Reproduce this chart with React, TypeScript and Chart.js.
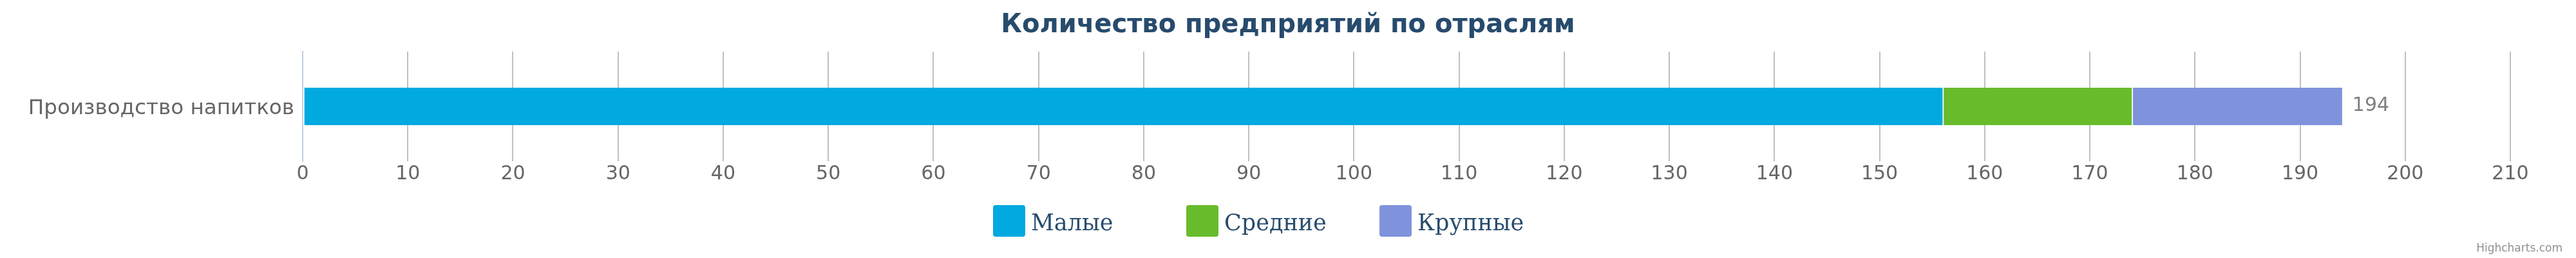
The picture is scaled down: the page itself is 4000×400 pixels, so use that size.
import React, { useEffect, useRef } from 'react';
import { Chart, registerables } from 'chart.js';

Chart.register(...registerables);

// ---- data ----
const titleText = 'Количество предприятий по отраслям';
const categories = ['Производство напитков'];
const seriesNames = ['Малые', 'Средние', 'Крупные'];
const smallValues = [156];
const mediumValues = [18];
const largeValues = [20];
const seriesColors = ['#00a9e0', '#68bc2c', '#7f93dc'];
const axisMin = 0;
const axisMax = 210;
const axisStep = 10;
const creditsText = 'Highcharts.com';

const seriesValues = [smallValues, mediumValues, largeValues];

const SANS = 'DejaVu Sans';

const totalsPlugin = {
  id: 'stackTotals',
  afterDatasetsDraw(chart: any) {
    const ctx = chart.ctx;
    const xs = chart.scales.x;
    const ys = chart.scales.y;
    ctx.save();
    ctx.font = `30px "${SANS}"`;
    ctx.fillStyle = '#808080';
    ctx.textAlign = 'left';
    ctx.textBaseline = 'middle';
    categories.forEach((_c, i) => {
      const total = seriesValues.reduce((s, arr) => s + arr[i], 0);
      const x = xs.getPixelForValue(total) + 16;
      const y = ys.getPixelForValue(i) - 1;
      ctx.fillText(String(total), x, y);
    });
    ctx.restore();
  },
};

const legendPlugin = {
  id: 'hcLegend',
  afterDraw(chart: any) {
    const ctx = chart.ctx;
    const itemWidth = 300;
    const startX = chart.width / 2 - 458;
    const boxTop = 318;
    ctx.save();
    seriesNames.forEach((name, i) => {
      const x = startX + i * itemWidth;
      ctx.fillStyle = seriesColors[i];
      ctx.beginPath();
      (ctx as any).roundRect(x, boxTop, 50, 49, 4);
      ctx.fill();
      ctx.fillStyle = '#274b6d';
      ctx.font = '35px "DejaVu Serif"';
      ctx.textAlign = 'left';
      ctx.textBaseline = 'alphabetic';
      ctx.fillText(name, x + 59, 357);
    });
    ctx.font = `17px "${SANS}"`;
    ctx.fillStyle = '#909090';
    ctx.textAlign = 'right';
    ctx.fillText(creditsText, chart.width - 21, 390);
    ctx.restore();
  },
};

export default function App() {
  const canvasRef = useRef<HTMLCanvasElement | null>(null);

  useEffect(() => {
    if (!canvasRef.current) return;
    const chart = new Chart(canvasRef.current, {
      type: 'bar',
      data: {
        labels: categories,
        datasets: seriesNames.map((name, i) => ({
          label: name,
          data: seriesValues[i],
          backgroundColor: seriesColors[i],
          borderColor: '#ffffff',
          borderWidth: { left: 2, right: 0, top: 0, bottom: 0 },
          borderSkipped: false,
          barThickness: 58,
          yAxisID: 'y',
        })),
      },
      options: {
        indexAxis: 'y',
        responsive: false,
        animation: false,
        layout: { padding: { top: 0, right: 0, bottom: 110, left: 0 } },
        plugins: {
          legend: { display: false },
          tooltip: { enabled: false },
          title: {
            display: true,
            text: titleText,
            color: '#274b6d',
            font: { family: SANS, size: 40, weight: 'bold' },
            padding: { top: 16, bottom: 16 },
          },
        },
        scales: {
          x: {
            type: 'linear',
            position: 'bottom',
            stacked: true,
            min: axisMin,
            max: axisMax,
            grid: {
              color: (c: any) => (c.tick && c.tick.value === 0 ? '#c0d0e0' : '#c0c0c0'),
              lineWidth: 2,
              drawTicks: false,
            },
            border: { display: false },
            ticks: {
              stepSize: axisStep,
              maxTicksLimit: 100,
              autoSkip: false,
              maxRotation: 0,
              padding: 2,
              color: '#666666',
              font: { family: SANS, size: 30 },
            },
            afterFit: (s: any) => {
              s.height = 40;
            },
          },
          y: {
            type: 'category',
            position: 'left',
            stacked: true,
            z: 1,
            grid: { display: false, drawTicks: false },
            border: { display: true, color: '#c0d0e0', width: 2 },
            ticks: {
              padding: 13,
              labelOffset: 4,
              color: '#666666',
              font: { family: SANS, size: 32.6 },
            },
            afterFit: (s: any) => {
              s.width = 470;
            },
          },
          yRight: {
            type: 'category',
            position: 'right',
            display: true,
            grid: { display: false, drawTicks: false },
            border: { display: false },
            ticks: { display: false },
            afterFit: (s: any) => {
              s.width = 102;
            },
          },
        },
      } as any,
      plugins: [totalsPlugin, legendPlugin],
    });
    return () => chart.destroy();
  }, []);

  return (
    <div style={{ position: 'fixed', left: 0, top: 0, width: 4000, height: 400, background: '#ffffff' }}>
      <canvas ref={canvasRef} width={4000} height={400} style={{ display: 'block' }} />
    </div>
  );
}
